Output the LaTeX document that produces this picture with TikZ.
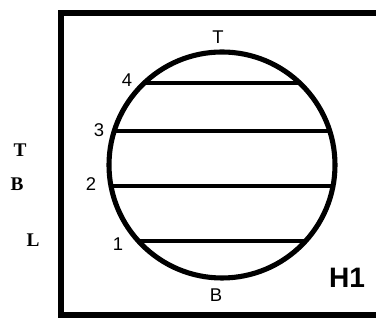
\documentclass[tikz,border=0pt]{standalone}
\usepackage{fontspec}
\setmainfont{Liberation Serif}
\setsansfont{Liberation Sans}
\usepackage{tikz}

\begin{document}
\begin{tikzpicture}[
    x=0.02cm, y=0.02cm,
    every node/.style={inner sep=0pt, font=\sffamily\fontsize{10.5}{12}\selectfont},
    sidelabel/.style={font=\rmfamily\bfseries\fontsize{11}{13}\selectfont},
    chord/.style={line width=2.7pt}
]
\clip (0,0) rectangle (376,320);
\draw[line width=3.5pt] (61,5) rectangle (420,307);

\coordinate (c) at (222,155);
\draw[line width=2.9pt] (c) circle (113);

\coordinate (a4) at (144,237);
\coordinate (b4) at (300,237);
\coordinate (a3) at (114,189);
\coordinate (b3) at (330,189);
\coordinate (a2) at (111,134);
\coordinate (b2) at (333,134);
\coordinate (a1) at (138,79);
\coordinate (b1) at (306,79);

\draw[chord] (a4) -- (b4);
\draw[chord] (a3) -- (b3);
\draw[chord] (a2) -- (b2);
\draw[chord] (a1) -- (b1);

\node (top) at (218,283) {T};
\node (bot) at (216,25) {B};
\node (n4) at (127,240) {4};
\node (n3) at (99,190) {3};
\node (n2) at (91,136) {2};
\node (n1) at (118,76) {1};
\node[font=\sffamily\bfseries\fontsize{16}{18}\selectfont] (h1) at (347,42) {H1};

\node[sidelabel] (lt) at (20,170) {T};
\node[sidelabel] (lb) at (17,136) {B};
\node[sidelabel] (ll) at (33,80) {L};
\end{tikzpicture}
\end{document}
